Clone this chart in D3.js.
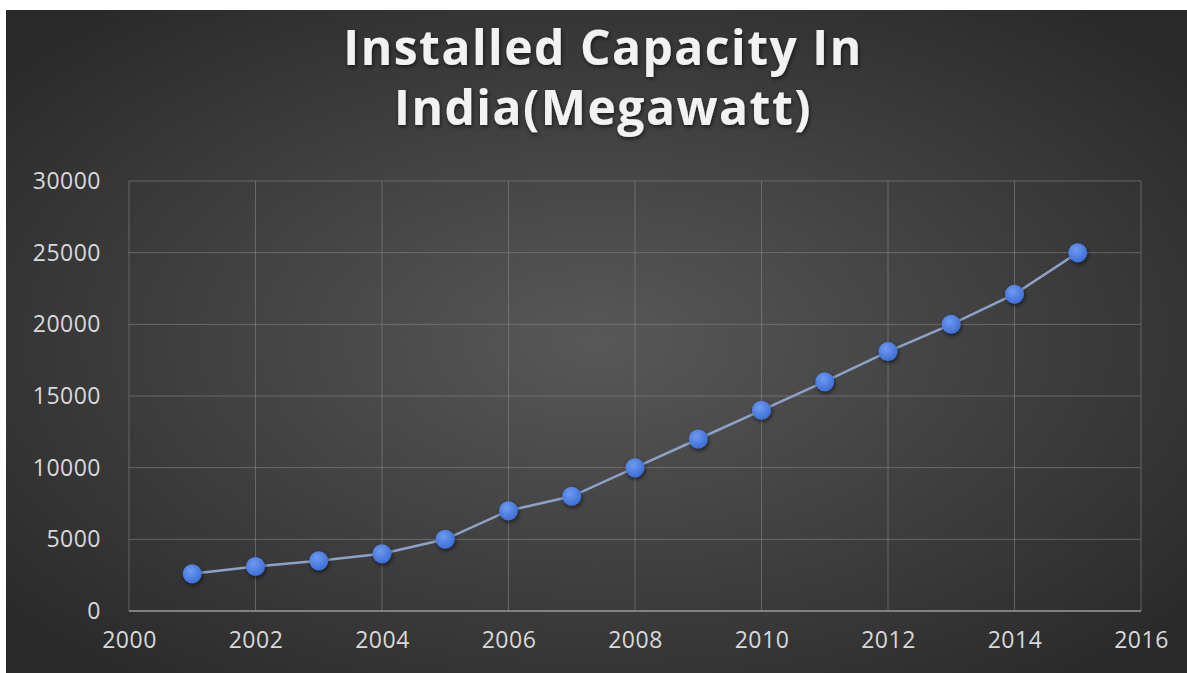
<!DOCTYPE html>
<html lang="en">
<head>
    <title>Installed Capacity In India</title>
    <script src="https://d3js.org/d3.v7.min.js"></script>
    <style>
        body { margin: 0; background: #fff; }
    </style>
</head>
<body>
    <div id="chart"></div>

    <script>
        // Data
        const years = [2001, 2002, 2003, 2004, 2005, 2006, 2007, 2008, 2009, 2010, 2011, 2012, 2013, 2014, 2015];
        const capacity = [2600, 3100, 3500, 4000, 5000, 7000, 8000, 10000, 12000, 14000, 16000, 18100, 20000, 22100, 25000];
        const xTicks = [2000, 2002, 2004, 2006, 2008, 2010, 2012, 2014, 2016];
        const yTicks = [0, 5000, 10000, 15000, 20000, 25000, 30000];
        const titleLines = ["Installed Capacity In", "India(Megawatt)"];

        const width = 1187;
        const height = 673;
        const margin = { top: 181, right: 46, bottom: 62, left: 129 };

        const svg = d3.select("#chart")
            .append("svg")
            .attr("width", width)
            .attr("height", height);

        // Background gradient
        const defs = svg.append("defs");
        const grad = defs.append("radialGradient")
            .attr("id", "bg")
            .attr("cx", "50%").attr("cy", "50%").attr("r", "65%");
        grad.append("stop").attr("offset", "0%").attr("stop-color", "#585858");
        grad.append("stop").attr("offset", "100%").attr("stop-color", "#2a2a2a");

        const ptGrad = defs.append("radialGradient")
            .attr("id", "pt")
            .attr("cx", "40%").attr("cy", "35%").attr("r", "65%");
        ptGrad.append("stop").attr("offset", "0%").attr("stop-color", "#6f9af0");
        ptGrad.append("stop").attr("offset", "100%").attr("stop-color", "#3d6fd8");

        const shadow = defs.append("filter").attr("id", "shadow")
            .attr("x", "-50%").attr("y", "-50%").attr("width", "200%").attr("height", "200%");
        shadow.append("feDropShadow")
            .attr("dx", 1).attr("dy", 2).attr("stdDeviation", 2)
            .attr("flood-color", "#000").attr("flood-opacity", 0.6);

        svg.append("rect")
            .attr("x", 6).attr("y", 10)
            .attr("width", width - 6).attr("height", height - 10)
            .attr("fill", "url(#bg)");

        // Scales
        const x = d3.scaleLinear()
            .domain([2000, 2016])
            .range([margin.left, width - margin.right]);

        const y = d3.scaleLinear()
            .domain([0, 30000])
            .range([height - margin.bottom, margin.top]);

        // Gridlines
        svg.append("g")
            .selectAll("line.h")
            .data(yTicks)
            .enter()
            .append("line")
            .attr("x1", x(2000)).attr("x2", x(2016))
            .attr("y1", d => y(d)).attr("y2", d => y(d))
            .attr("stroke", "#8a8a8a")
            .attr("stroke-opacity", d => d === 0 ? 0.9 : 0.55)
            .attr("stroke-width", d => d === 0 ? 2 : 1);

        svg.append("g")
            .selectAll("line.v")
            .data(xTicks)
            .enter()
            .append("line")
            .attr("x1", d => x(d)).attr("x2", d => x(d))
            .attr("y1", y(0)).attr("y2", y(30000))
            .attr("stroke", "#8a8a8a")
            .attr("stroke-opacity", 0.55)
            .attr("stroke-width", 1);

        // Axes (labels only)
        const xAxis = svg.append("g")
            .attr("transform", `translate(0, ${y(0)})`)
            .call(d3.axisBottom(x).tickValues(xTicks).tickFormat(d3.format("d")).tickSize(0).tickPadding(16));
        const yAxis = svg.append("g")
            .attr("transform", `translate(${x(2000)}, 0)`)
            .call(d3.axisLeft(y).tickValues(yTicks).tickFormat(d3.format("d")).tickSize(0).tickPadding(28));

        [xAxis, yAxis].forEach(a => {
            a.select(".domain").remove();
            a.selectAll("text")
                .attr("fill", "#d9d9d9")
                .style("font-family", "'Open Sans', sans-serif")
                .style("font-size", "23px")
                .style("letter-spacing", "0.5px");
        });
        xAxis.selectAll("text").attr("dy", "0.9em");

        // Line
        const line = d3.line()
            .x((d, i) => x(years[i]))
            .y(d => y(d));

        svg.append("path")
            .datum(capacity)
            .attr("d", line)
            .attr("fill", "none")
            .attr("stroke", "#8ea2c8")
            .attr("stroke-width", 2.5);

        // Points
        svg.selectAll("circle")
            .data(capacity)
            .enter()
            .append("circle")
            .attr("cx", (d, i) => x(years[i]))
            .attr("cy", d => y(d))
            .attr("r", 9.5)
            .attr("fill", "url(#pt)")
            .attr("filter", "url(#shadow)");

        // Title
        svg.append("text")
            .attr("x", 603)
            .attr("y", 65)
            .attr("text-anchor", "middle")
            .attr("fill", "#f2f2f2")
            .attr("filter", "url(#shadow)")
            .style("font-family", "'Open Sans', sans-serif")
            .style("font-weight", "bold")
            .style("font-size", "48px")
            .style("letter-spacing", "1.5px")
            .selectAll("tspan")
            .data(titleLines)
            .enter()
            .append("tspan")
            .attr("x", 603)
            .attr("dy", (d, i) => i === 0 ? 0 : 60)
            .text(d => d);
    </script>
</body>
</html>
